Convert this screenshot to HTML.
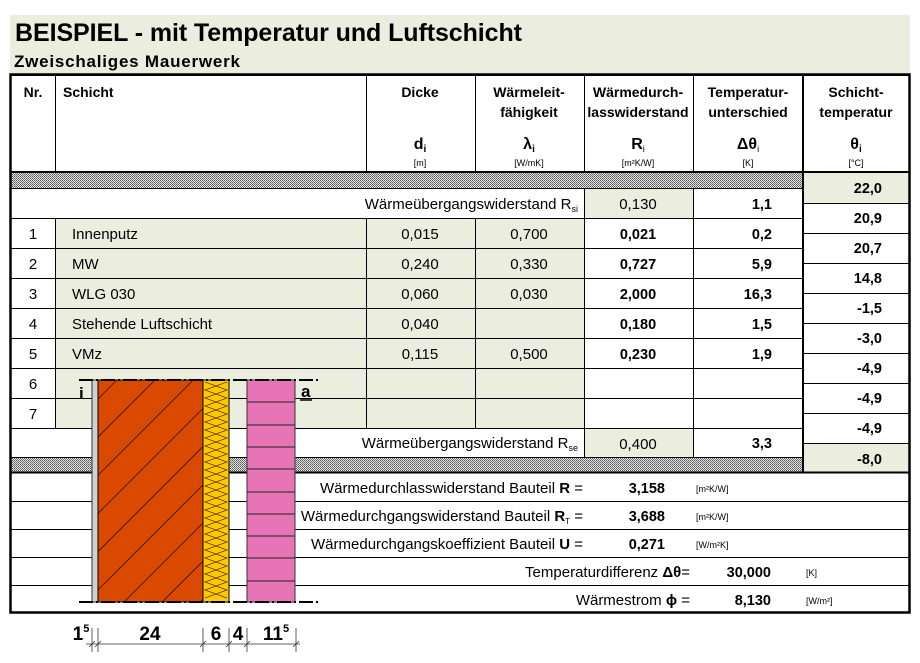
<!DOCTYPE html>
<html><head><meta charset="utf-8"><style>
html,body{margin:0;padding:0;background:#fff;}
svg{display:block;font-family:"Liberation Sans",Arial,sans-serif;}
</style></head><body>
<svg width="920" height="663" viewBox="0 0 920 663" xmlns="http://www.w3.org/2000/svg">
<defs>
<pattern id="dots" width="2" height="2" patternUnits="userSpaceOnUse">
<rect width="2" height="2" fill="#e4e4e4"/><rect width="1" height="1" fill="#555"/><rect x="1" y="1" width="1" height="1" fill="#777"/>
</pattern>
<pattern id="hatch" width="27" height="27" patternUnits="userSpaceOnUse" patternTransform="rotate(-45 0 0)">
<rect width="27" height="27" fill="#d94a00"/><line x1="0" y1="0" x2="27" y2="0" stroke="#000" stroke-width="1.2"/>
</pattern>
</defs>
<rect x="10" y="15" width="900" height="59" fill="#ebeedf"/>
<text x="15" y="41" font-size="25" font-weight="bold" textLength="507">BEISPIEL - mit Temperatur und Luftschicht</text>
<text x="14" y="67" font-size="17" font-weight="bold" textLength="226">Zweischaliges Mauerwerk</text>

<rect x="10" y="172" width="793" height="16" fill="url(#dots)"/>
<rect x="10" y="457" width="793" height="15" fill="url(#dots)"/>
<rect x="55" y="218" width="529" height="210" fill="#ebeedf"/>
<rect x="584" y="188" width="109" height="30" fill="#ebeedf"/>
<rect x="584" y="428" width="109" height="29" fill="#ebeedf"/>
<rect x="803" y="172" width="107" height="31" fill="#ebeedf"/>
<rect x="803" y="443" width="107" height="29" fill="#ebeedf"/>

<g stroke="#000" stroke-width="1">
<line x1="10" y1="188.5" x2="803" y2="188.5"/>
<line x1="10" y1="218.5" x2="803" y2="218.5"/>
<line x1="10" y1="248.5" x2="803" y2="248.5"/>
<line x1="10" y1="278.5" x2="803" y2="278.5"/>
<line x1="10" y1="308.5" x2="803" y2="308.5"/>
<line x1="10" y1="338.5" x2="803" y2="338.5"/>
<line x1="10" y1="368.5" x2="803" y2="368.5"/>
<line x1="10" y1="398.5" x2="803" y2="398.5"/>
<line x1="10" y1="428.5" x2="803" y2="428.5"/>
<line x1="10" y1="457.5" x2="803" y2="457.5"/>
<line x1="803" y1="203.5" x2="910" y2="203.5"/>
<line x1="803" y1="233.5" x2="910" y2="233.5"/>
<line x1="803" y1="263.5" x2="910" y2="263.5"/>
<line x1="803" y1="293.5" x2="910" y2="293.5"/>
<line x1="803" y1="323.5" x2="910" y2="323.5"/>
<line x1="803" y1="353.5" x2="910" y2="353.5"/>
<line x1="803" y1="383.5" x2="910" y2="383.5"/>
<line x1="803" y1="413.5" x2="910" y2="413.5"/>
<line x1="803" y1="443.5" x2="910" y2="443.5"/>
<line x1="10" y1="501.5" x2="910" y2="501.5"/>
<line x1="10" y1="529.5" x2="910" y2="529.5"/>
<line x1="10" y1="557.5" x2="910" y2="557.5"/>
<line x1="10" y1="585.5" x2="910" y2="585.5"/>
<line x1="55.5" y1="74" x2="55.5" y2="172"/><line x1="55.5" y1="218" x2="55.5" y2="428"/>
<line x1="366.5" y1="74" x2="366.5" y2="172"/><line x1="366.5" y1="218" x2="366.5" y2="428"/>
<line x1="475.5" y1="74" x2="475.5" y2="172"/><line x1="475.5" y1="218" x2="475.5" y2="428"/>
<line x1="584.5" y1="74" x2="584.5" y2="172"/><line x1="584.5" y1="188" x2="584.5" y2="457"/>
<line x1="693.5" y1="74" x2="693.5" y2="172"/><line x1="693.5" y1="188" x2="693.5" y2="457"/>
</g>
<g stroke="#000" stroke-width="2">
<line x1="10" y1="75" x2="910" y2="75"/>
<line x1="10" y1="172" x2="910" y2="172"/>
<line x1="10" y1="472.5" x2="910" y2="472.5"/>
<line x1="803" y1="74" x2="803" y2="473"/>
</g>
<rect x="10.5" y="74.5" width="899" height="538" fill="none" stroke="#000" stroke-width="2.5"/>

<g font-size="14" font-weight="bold" text-anchor="middle">
<text x="33" y="97">Nr.</text>
<text x="63" y="97" text-anchor="start">Schicht</text>
<text x="420" y="97">Dicke</text>
<text x="529" y="97">Wärmeleit-</text><text x="529" y="117">fähigkeit</text>
<text x="638" y="97">Wärmedurch-</text><text x="638" y="117">lasswiderstand</text>
<text x="748" y="97">Temperatur-</text><text x="748" y="117">unterschied</text>
<text x="856" y="97">Schicht-</text><text x="856" y="117">temperatur</text>
<text x="420" y="149" font-size="16">d<tspan font-size="10" dy="3">i</tspan></text>
<text x="529" y="149" font-size="16">λ<tspan font-size="10" dy="3">i</tspan></text>
<text x="638" y="149" font-size="16">R<tspan font-size="9" font-weight="normal" dy="3">i</tspan></text>
<text x="748" y="149" font-size="16">Δθ<tspan font-size="9" font-weight="normal" dy="3">i</tspan></text>
<text x="856" y="149" font-size="16">θ<tspan font-size="10" dy="3">i</tspan></text>
</g>
<g font-size="9" text-anchor="middle">
<text x="420" y="166">[m]</text><text x="529" y="166">[W/mK]</text><text x="638" y="166">[m²K/W]</text><text x="748" y="166">[K]</text><text x="856" y="166">[°C]</text>
</g>

<g font-size="15">
<text x="578" y="209" text-anchor="end">Wärmeübergangswiderstand R<tspan font-size="9" dy="3">si</tspan></text>
<text x="638" y="209" text-anchor="middle">0,130</text>
<text x="578" y="448" text-anchor="end">Wärmeübergangswiderstand R<tspan font-size="9" dy="3">se</tspan></text>
<text x="638" y="449" text-anchor="middle">0,400</text>
<g text-anchor="middle">
<text x="33" y="239">1</text><text x="33" y="269">2</text><text x="33" y="299">3</text><text x="33" y="329">4</text><text x="33" y="359">5</text><text x="33" y="389">6</text><text x="33" y="419">7</text>
<text x="420" y="239">0,015</text><text x="420" y="269">0,240</text><text x="420" y="299">0,060</text><text x="420" y="329">0,040</text><text x="420" y="359">0,115</text>
<text x="529" y="239">0,700</text><text x="529" y="269">0,330</text><text x="529" y="299">0,030</text><text x="529" y="359">0,500</text>
</g>
<text x="72" y="239">Innenputz</text><text x="72" y="269">MW</text><text x="72" y="299">WLG 030</text><text x="72" y="329">Stehende Luftschicht</text><text x="72" y="359">VMz</text>
</g>
<g font-size="14.5" font-weight="bold">
<g text-anchor="middle">
<text x="638" y="239">0,021</text><text x="638" y="269">0,727</text><text x="638" y="299">2,000</text><text x="638" y="329">0,180</text><text x="638" y="359">0,230</text>
</g>
<g text-anchor="end">
<text x="772" y="209">1,1</text><text x="772" y="239">0,2</text><text x="772" y="269">5,9</text><text x="772" y="299">16,3</text><text x="772" y="329">1,5</text><text x="772" y="359">1,9</text><text x="772" y="448">3,3</text>
<text x="882" y="193">22,0</text><text x="882" y="223">20,9</text><text x="882" y="253">20,7</text><text x="882" y="283">14,8</text><text x="882" y="313">-1,5</text><text x="882" y="343">-3,0</text><text x="882" y="373">-4,9</text><text x="882" y="403">-4,9</text><text x="882" y="433">-4,9</text><text x="882" y="464">-8,0</text>
<text x="665" y="493">3,158</text><text x="665" y="521">3,688</text><text x="665" y="549">0,271</text>
<text x="771" y="577">30,000</text><text x="771" y="605">8,130</text>
</g>
</g>
<g font-size="15" text-anchor="end">
<text x="583" y="493">Wärmedurchlasswiderstand Bauteil <tspan font-weight="bold">R</tspan> =</text>
<text x="583" y="521">Wärmedurchgangswiderstand Bauteil <tspan font-weight="bold">R</tspan><tspan font-size="8" dy="3">T</tspan><tspan dy="-3"> =</tspan></text>
<text x="583" y="549">Wärmedurchgangskoeffizient Bauteil <tspan font-weight="bold">U</tspan> =</text>
<text x="690" y="577">Temperaturdifferenz <tspan font-weight="bold">Δθ</tspan>=</text>
<text x="690" y="605">Wärmestrom <tspan font-weight="bold">ϕ</tspan> =</text>
</g>
<g font-size="9">
<text x="696" y="492">[m²K/W]</text><text x="696" y="520">[m²K/W]</text><text x="696" y="548">[W/m²K]</text>
<text x="806" y="576">[K]</text><text x="806" y="604">[W/m²]</text>
</g>

<rect x="92" y="380" width="6" height="222" fill="#d0d0d0" stroke="#333" stroke-width="1"/>
<rect x="98" y="380" width="105" height="222" fill="url(#hatch)" stroke="#000" stroke-width="1"/>
<rect x="203" y="380" width="26" height="222" fill="#ffc800" stroke="#000" stroke-width="1"/>
<polyline fill="none" stroke="#5a4000" stroke-width="0.8" points="205,382 227,390 205,398 227,406 205,414 227,422 205,430 227,438 205,446 227,454 205,462 227,470 205,478 227,486 205,494 227,502 205,510 227,518 205,526 227,534 205,542 227,550 205,558 227,566 205,574 227,582 205,590 227,598"/>
<polyline fill="none" stroke="#5a4000" stroke-width="0.8" points="227,382 205,390 227,398 205,406 227,414 205,422 227,430 205,438 227,446 205,454 227,462 205,470 227,478 205,486 227,494 205,502 227,510 205,518 227,526 205,534 227,542 205,550 227,558 205,566 227,574 205,582 227,590 205,598"/>
<rect x="247" y="380" width="48" height="222" fill="#e874b8" stroke="#333" stroke-width="1"/>
<g stroke="#222" stroke-width="1">
<line x1="247" y1="402" x2="295" y2="402"/><line x1="247" y1="425" x2="295" y2="425"/><line x1="247" y1="447" x2="295" y2="447"/><line x1="247" y1="469" x2="295" y2="469"/><line x1="247" y1="492" x2="295" y2="492"/><line x1="247" y1="514" x2="295" y2="514"/><line x1="247" y1="536" x2="295" y2="536"/><line x1="247" y1="558" x2="295" y2="558"/><line x1="247" y1="581" x2="295" y2="581"/>
</g>
<g stroke="#000" stroke-width="2" stroke-dasharray="14,3,2,3">
<line x1="79" y1="380" x2="320" y2="380"/><line x1="79" y1="602" x2="320" y2="602"/>
</g>
<text x="79" y="399" font-size="17" font-weight="bold">i</text>
<text x="301" y="397" font-size="17" font-weight="bold">a</text>
<line x1="300" y1="400" x2="312" y2="400" stroke="#000" stroke-width="1.5"/>
<g stroke="#333" stroke-width="0.8">
<line x1="86" y1="644" x2="300" y2="644"/>
<line x1="92" y1="628" x2="92" y2="652"/><line x1="98" y1="628" x2="98" y2="652"/><line x1="203" y1="628" x2="203" y2="652"/><line x1="229" y1="628" x2="229" y2="652"/><line x1="247" y1="628" x2="247" y2="652"/><line x1="296" y1="628" x2="296" y2="652"/>
<line x1="89" y1="647" x2="95" y2="641"/><line x1="95" y1="647" x2="101" y2="641"/><line x1="200" y1="647" x2="206" y2="641"/><line x1="226" y1="647" x2="232" y2="641"/><line x1="244" y1="647" x2="250" y2="641"/><line x1="293" y1="647" x2="299" y2="641"/>
</g>
<g font-size="19" font-weight="bold" text-anchor="middle">
<text x="81" y="640">1<tspan font-size="11" dy="-8">5</tspan></text>
<text x="150" y="640">24</text>
<text x="216" y="640">6</text>
<text x="238" y="640">4</text>
<text x="276" y="640">11<tspan font-size="11" dy="-8">5</tspan></text>
</g>
</svg>
</body></html>
